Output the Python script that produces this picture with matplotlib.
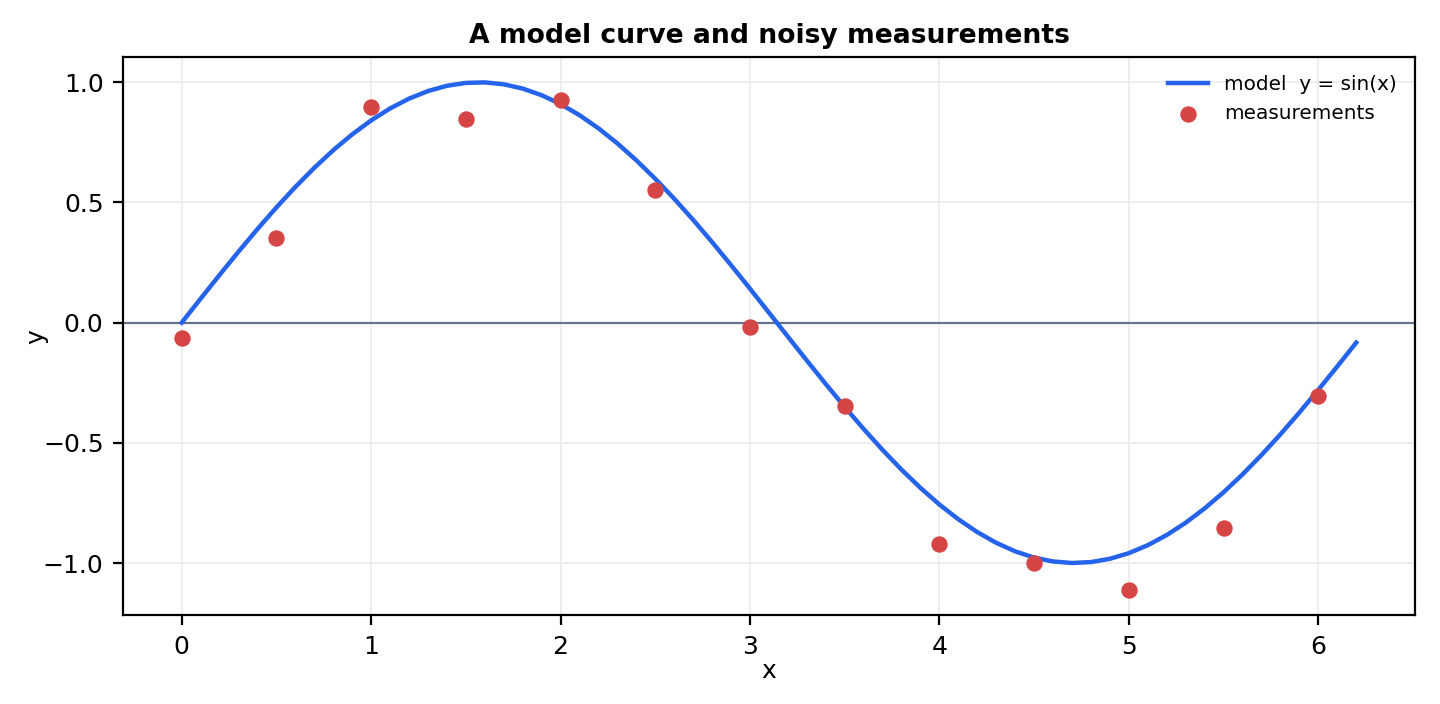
import matplotlib

matplotlib.use("Agg")

import matplotlib.pyplot as plt
import numpy as np

# model curve: y = sin(x), sampled every 0.1 from 0 to 6.2
MODEL_X = np.round(np.arange(0.0, 6.25, 0.1), 2)
MODEL_Y = np.sin(MODEL_X)

MEASURE_X = [0.0, 0.5, 1.0, 1.5, 2.0, 2.5, 3.0, 3.5, 4.0, 4.5, 5.0, 5.5, 6.0]
MEASURE_Y = [-0.062, 0.354, 0.896, 0.846, 0.925, 0.550, -0.017,
             -0.346, -0.921, -1.000, -1.112, -0.854, -0.304]


def main() -> None:
    figure, axis = plt.subplots(figsize=(7.2, 3.52), dpi=200)

    axis.plot(MODEL_X, MODEL_Y, color="#2563eb", linewidth=1.6,
              label="model  y = sin(x)", zorder=3)
    axis.scatter(MEASURE_X, MEASURE_Y, s=24, color="#d64545",
                 label="measurements", zorder=4)
    axis.axhline(0, color="#64748b", linewidth=0.8, zorder=2)

    axis.grid(True, color="#ebebeb", linewidth=0.6)
    axis.set_axisbelow(True)
    axis.set_title("A model curve and noisy measurements",
                   fontsize=9.6, fontweight="bold", pad=5)
    axis.set_xlabel("x", fontsize=9, labelpad=0)
    axis.set_ylabel("y", fontsize=9, labelpad=-2)
    axis.tick_params(labelsize=9)
    axis.legend(loc="upper right", frameon=False, fontsize=7.2)

    figure.subplots_adjust(left=0.0854, right=0.9826, top=0.919, bottom=0.126)
    figure.savefig("out.png", dpi=200)
    plt.close(figure)


if __name__ == "__main__":
    main()
